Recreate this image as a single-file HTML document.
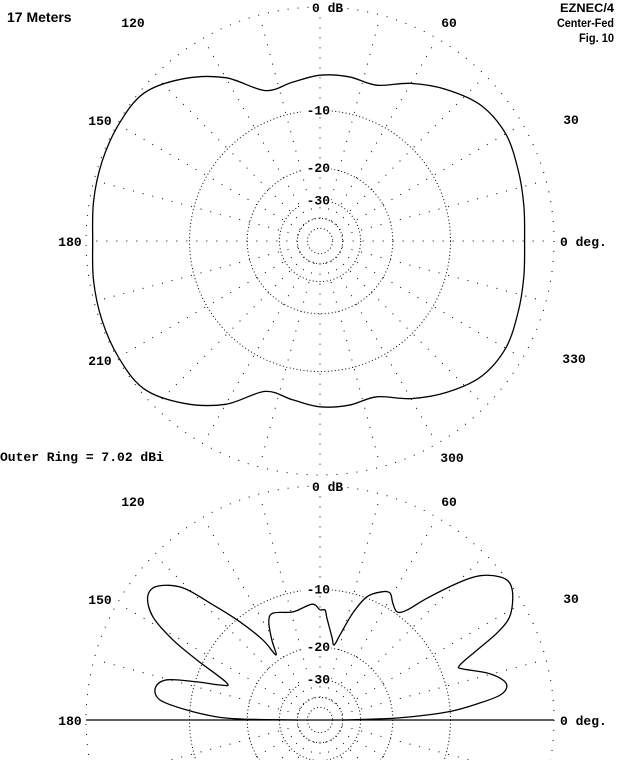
<!DOCTYPE html>
<html><head><meta charset="utf-8"><style>
html,body{margin:0;padding:0;background:#fff;width:640px;height:760px;overflow:hidden;}
svg{display:block;overflow:hidden;}
.lb{font-family:"Liberation Mono",monospace;font-weight:bold;font-size:13px;fill:#000;}
.ti{font-family:"Liberation Sans",sans-serif;font-weight:bold;fill:#000;}
</style></head><body>
<svg id="chart" width="640" height="760" viewBox="0 0 640 760" xmlns="http://www.w3.org/2000/svg">
<defs><clipPath id="frame"><rect x="0" y="0" width="640" height="760"/></clipPath></defs>
<text class="ti" x="7" y="22" font-size="14">17 Meters</text>
<text class="ti" x="614" y="12" font-size="12" text-anchor="end" textLength="54" lengthAdjust="spacingAndGlyphs">EZNEC/4</text>
<text class="ti" x="614" y="27" font-size="12" text-anchor="end" textLength="57" lengthAdjust="spacingAndGlyphs">Center-Fed</text>
<text class="ti" x="614" y="42" font-size="12" text-anchor="end" textLength="35" lengthAdjust="spacingAndGlyphs">Fig. 10</text>
<text class="lb" x="0" y="461">Outer Ring = 7.02 dBi</text>
<g id="topPlot"></g>
<g id="botPlot" clip-path="url(#frame)"></g>
</svg>
<script>
// Azimuth pattern (deg, dB)
const azAngles = [0,10,20,30,40,50,60,70,80,90,100,110,120,130,140,150,160,170,180,190,200,210,220,230,240,250,260,270,280,290,300,310,320,330,340,350,360];
const azGain = [-2.3,-2.1,-1.8,-1.5,-1.8,-2.9,-4.3,-5.9,-5.8,-5.9,-6.4,-6.5,-3.7,-1.7,-0.3,-0.1,-0.15,-0.3,-0.5,-0.3,-0.15,-0.1,-0.3,-1.7,-3.7,-6.5,-6.4,-5.9,-5.8,-5.9,-4.3,-2.9,-1.8,-1.5,-1.8,-2.1,-2.3];
// Elevation pattern (deg, dB)
const elAngles = [0,1.5,3.6,6.1,7.9,10,12.3,15.7,19.8,21.4,24,26.2,28.5,32.5,35.8,38.5,42,44.6,48.7,51.7,54.5,58,61.1,64.2,69.1,72.9,76.8,79.4,81.8,86.1,87.4,90,93.9,104,113.7,117.5,121,124.1,125.5,129.2,132.9,136.1,140.6,144.4,148.3,151.4,154,158.3,160.7,162.8,165.3,169,172.9,175.7,178.3,179.3,180];
const elGain = [-40,-19,-10.4,-6.4,-4.3,-3.6,-3.8,-5.1,-7.5,-7.6,-5.3,-2.9,-1.4,-0.4,0,-0.3,-1.4,-3.0,-6.3,-8.8,-9.7,-9.1,-8.2,-8.5,-9.8,-12.6,-16.9,-19.2,-17.6,-14.2,-12.9,-12.9,-12.0,-12.7,-11.9,-12.8,-15.7,-18.7,-14.9,-10.5,-6.8,-3.5,-1.8,-1.7,-3.0,-5.7,-9.2,-14.5,-13.6,-10.2,-6.7,-5.7,-6.4,-9.6,-14.1,-19.0,-40];
const ringDb = [0,-10,-20,-30,-40,-50];
const ringLabels = ["-10","-20","-30"];
const azTickLabels = ["120","60","150","30","210","330","300"];
const elTickLabels = ["120","60","150","30"];

const NS="http://www.w3.org/2000/svg";
const R=234;
const tickPos={"120":[133,-219],"60":[449,-219],"150":[100,-121],"30":[571,-122],"210":[100,119],"330":[574,117],"300":[452,216]};
function rOf(db){return R*Math.exp(0.0584*db);}
function pt(cx,cy,ang,db){const r=rOf(db),a=ang*Math.PI/180;return [cx+r*Math.cos(a),cy-r*Math.sin(a)];}
function mk(tag,attrs,parent){const e=document.createElementNS(NS,tag);for(const k in attrs)e.setAttribute(k,attrs[k]);parent.appendChild(e);return e;}
function txt(parent,x,y,s,anchor,name){
  const t=mk('text',{x:x,y:y,'class':'lb','text-anchor':anchor},parent);
  
  
  t.textContent=s;return t;}

function grid(g,cx,cy){
  ringDb.forEach((d,i)=>{
    const c=mk('circle',{cx:cx,cy:cy,r:rOf(d),fill:'none',stroke:'#000','stroke-width':1,'stroke-dasharray':i==0?'1 9':'1 2.5'},g);
    
    
  });
  for(let a=0;a<360;a+=15){
    const p0=pt(cx,cy,a,-40),p1=pt(cx,cy,a,-0.3);
    const l=mk('line',{x1:p0[0],y1:p0[1],x2:p1[0],y2:p1[1],stroke:'#000','stroke-width':1,'stroke-dasharray':'1 9'},g);
    
    
  }
}
function labels(g,cx,cy,ticks){
  mk('rect',{x:cx-10,y:cy-241,width:36,height:14,fill:'#fff'},g);
  txt(g,cx-8,cy-229,'0 dB','start','zero-db-label');
  const ry=[rOf(-10),rOf(-20),rOf(-30)];
  ringLabels.forEach((s,i)=>{mk('rect',{x:cx-19,y:cy-ry[i]-9,width:30,height:14,fill:'#fff'},g);txt(g,cx+10,cy-ry[i]+4,s,'end','ring-label');});
  ticks.forEach(s=>{
    const p=tickPos[s];
    txt(g,p[0],cy+p[1]+5,s,'middle','angle-label');
  });
  txt(g,70,cy+5,'180','middle','angle-label');
  txt(g,cx+240,cy+5,'0 deg.','start','zero-deg-label');
}
function curve(g,cx,cy,angs,gains,name){
  const P=angs.map((a,i)=>pt(cx,cy,a,gains[i]));
  let d='M'+P[0][0].toFixed(1)+','+P[0][1].toFixed(1);
  for(let i=0;i<P.length-1;i++){
    const p0=P[Math.max(0,i-1)],p1=P[i],p2=P[i+1],p3=P[Math.min(P.length-1,i+2)];
    const c1=[p1[0]+(p2[0]-p0[0])/6,p1[1]+(p2[1]-p0[1])/6];
    const c2=[p2[0]-(p3[0]-p1[0])/6,p2[1]-(p3[1]-p1[1])/6];
    d+=' C'+c1[0].toFixed(1)+','+c1[1].toFixed(1)+' '+c2[0].toFixed(1)+','+c2[1].toFixed(1)+' '+p2[0].toFixed(1)+','+p2[1].toFixed(1);
  }
  const p=mk('path',{d:d,fill:'none',stroke:'#000','stroke-width':1.3,'stroke-linejoin':'round'},g);
  
  
}
const topG=document.getElementById('topPlot'),botG=document.getElementById('botPlot');
grid(topG,320,241);
curve(topG,320,241,azAngles,azGain,'azimuth-pattern');
labels(topG,320,241,azTickLabels);
grid(botG,320,720);
curve(botG,320,720,elAngles,elGain,'elevation-pattern');
labels(botG,320,720,elTickLabels);
const gl=mk('line',{x1:86,y1:720,x2:554,y2:720,stroke:'#000','stroke-width':1.3},botG);


</script>
</body></html>
